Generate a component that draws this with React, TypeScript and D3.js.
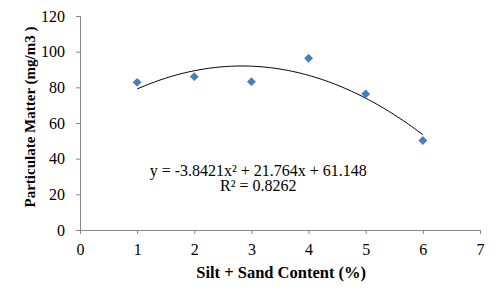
import { useEffect, useRef } from 'react'
import * as d3 from 'd3'

const silt = [1, 2, 3, 4, 5, 6]
const particulate = [82.8, 86, 83.2, 96.3, 76.3, 50.2]
const xTicks = [0, 1, 2, 3, 4, 5, 6, 7]
const yTicks = [0, 20, 40, 60, 80, 100, 120]
// trendline coefficients shown in the chart: a*x^2 + b*x + c
const trendCoef = [-3.8421, 21.764, 61.148]
const trendLabel = 'y = -3.8421x² + 21.764x + 61.148'
const r2Label = 'R² = 0.8262'

export default function App() {
  const svgRef = useRef<SVGSVGElement>(null)

  useEffect(() => {
    const W = 500
    const H = 299
    const margin = { top: 16, right: 20, bottom: 69, left: 80 }
    const innerW = W - margin.left - margin.right
    const innerH = H - margin.top - margin.bottom

    const x = d3.scaleLinear().domain([0, 7]).range([0, innerW])
    const y = d3.scaleLinear().domain([0, 120]).range([innerH, 0])

    const svg = d3.select(svgRef.current)
    svg.selectAll('*').remove()
    svg.attr('width', W).attr('height', H)

    const g = svg.append('g').attr('transform', `translate(${margin.left},${margin.top})`)
    const font = '"Times New Roman", "Liberation Serif", "DejaVu Serif", serif'
    const axisColor = '#868686'

    // Axes
    g.append('g')
      .attr('transform', `translate(0,${innerH})`)
      .call(d3.axisBottom(x).tickValues(xTicks).tickSize(4).tickPadding(10).tickFormat(d3.format('d')))
      .call((ax) => ax.select('.domain').attr('stroke', axisColor).attr('d', `M0,0.5H${innerW}`))
      .call((ax) => ax.selectAll('line').attr('stroke', axisColor))
      .call((ax) =>
        ax.selectAll('text')
          .attr('fill', '#000')
          .style('font-size', '16px')
          .style('font-family', font)
      )

    g.append('g')
      .call(d3.axisLeft(y).tickValues(yTicks).tickSize(4).tickPadding(11).tickFormat(d3.format('d')))
      .call((ax) => ax.select('.domain').attr('stroke', axisColor).attr('d', `M0.5,${innerH}V0`))
      .call((ax) => ax.selectAll('line').attr('stroke', axisColor))
      .call((ax) =>
        ax.selectAll('text')
          .attr('fill', '#000')
          .style('font-size', '16px')
          .style('font-family', font)
      )

    // Trendline
    const [a, b, c] = trendCoef
    const curve = d3.range(1, 6.001, 0.05).map((v) => [v, a * v * v + b * v + c])
    g.append('path')
      .datum(curve)
      .attr('fill', 'none')
      .attr('stroke', '#000')
      .attr('stroke-width', 1)
      .attr('d', d3.line<number[]>().x((d) => x(d[0])).y((d) => y(d[1])))

    // Points
    g.selectAll('path.pt')
      .data(silt)
      .join('path')
      .attr('class', 'pt')
      .attr('transform', (d, i) => `translate(${x(d)},${y(particulate[i])})`)
      .attr('d', d3.symbol(d3.symbolDiamond2, 50)() as string)
      .attr('fill', '#4a7ebb')

    // Equation
    const eq = g.append('text')
      .style('font-family', font)
      .style('font-size', '16px')
      .attr('text-anchor', 'middle')
      .attr('fill', '#000')
    eq.append('tspan').attr('x', x(3.12)).attr('y', 160).text(trendLabel)
    eq.append('tspan').attr('x', x(3.12)).attr('y', 175).text(r2Label)

    // Axis titles
    svg.append('text')
      .attr('x', margin.left + x(3.52))
      .attr('y', 278)
      .attr('text-anchor', 'middle')
      .style('font-family', font)
      .attr('font-weight', 'bold')
      .style('font-size', '16.5px')
      .text('Silt + Sand Content (%)')

    svg.append('text')
      .attr('transform', `translate(35,117) rotate(-90)`)
      .attr('text-anchor', 'middle')
      .style('font-family', font)
      .attr('font-weight', 'bold')
      .style('font-size', '15px')
      .text('Particulate Matter (mg/m3 )')
  }, [])

  return (
    <div style={{ position: 'absolute', left: 0, top: 0, background: '#fff' }}>
      <svg ref={svgRef} style={{ display: 'block' }} />
    </div>
  )
}
